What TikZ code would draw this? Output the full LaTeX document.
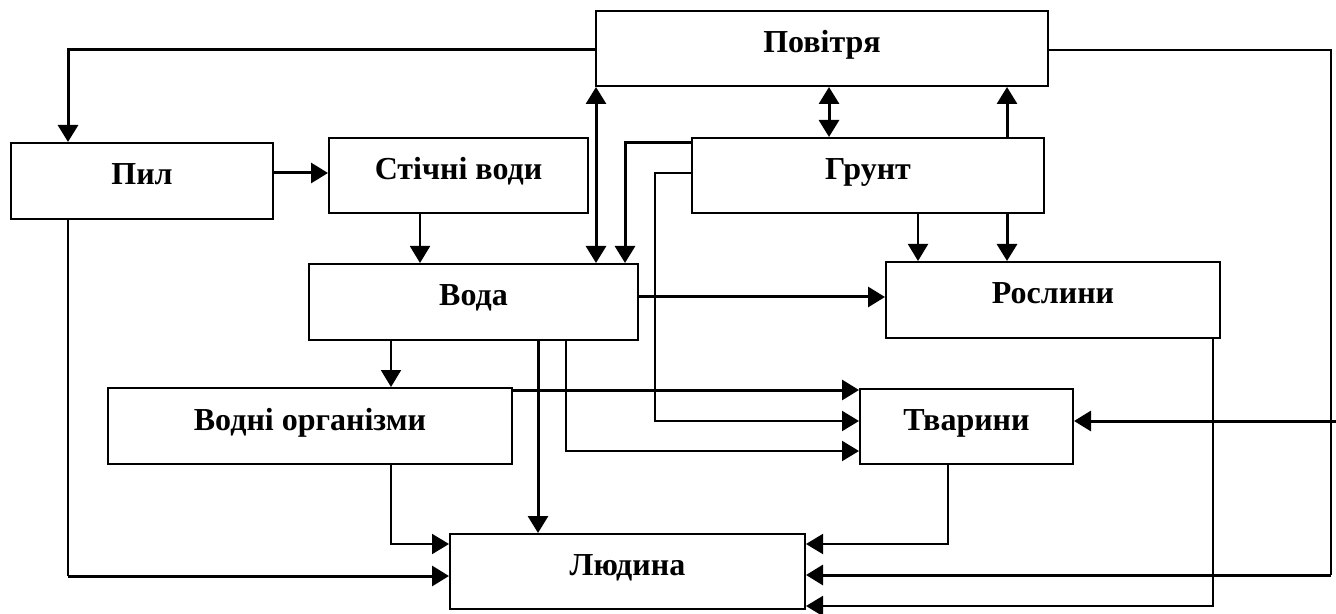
\documentclass[tikz,border=0pt]{standalone}
\usepackage{fontspec}
\setmainfont{Liberation Serif}
\usetikzlibrary{arrows.meta,calc}
\begin{document}
\begin{tikzpicture}[x=0.5pt,y=-0.5pt,
 box/.style={draw, line width=1pt, inner sep=0pt, font=\fontsize{16}{19}\selectfont\bfseries, text height=6pt, text depth=2pt},
 ln/.style={line width=1pt},
 tk/.style={line width=1.5pt},
 arr/.style={-{Triangle[length=8.5pt,width=10pt]}},
 barr/.style={{Triangle[length=8.5pt,width=10pt]}-{Triangle[length=8.5pt,width=10pt]}},
]
\useasboundingbox (0,0) rectangle (1336,614);
% boxes
\node[box, minimum width=226pt, minimum height=37.5pt] (pov) at (822,48.5) {Повітря};
\node[box, minimum width=131pt, minimum height=38pt] (pil) at (142,181) {Пил};
\node[box, minimum width=129.5pt, minimum height=37.5pt] (stichni) at (458.5,175.5) {Стічні води};
\node[box, minimum width=176pt, minimum height=37.5pt] (grunt) at (868,175.5) {Грунт};
\node[box, minimum width=164.5pt, minimum height=38pt] (voda) at (473.5,302) {Вода};
\node[box, minimum width=167pt, minimum height=38pt] (rosl) at (1053,300) {Рослини};
\node[box, minimum width=202pt, minimum height=38pt] (vodni) at (310,426) {Водні організми};
\node[box, minimum width=106.5pt, minimum height=37.5pt] (tvar) at (966.5,426.5) {Тварини};
\node[box, minimum width=177.5pt, minimum height=37.5pt] (lyud) at (627.5,571.5) {Людина};
% helper coordinates
\coordinate (yA) at (0,50);
\coordinate (xA) at (68,0);
\coordinate (xR) at (1331,0);
\coordinate (yB) at (0,575);
\coordinate (edge) at (1336,421);
\coordinate (yC) at (0,173);
\coordinate (xD) at (420,0);
\coordinate (yE) at (0,576);
\coordinate (xF) at (391,0);
\coordinate (yF) at (0,544);
\coordinate (xH) at (596,0);
\coordinate (yI) at (0,143);
\coordinate (xI) at (625,0);
\coordinate (xJ) at (655,0);
\coordinate (yJ) at (0,421);
\coordinate (xK) at (829,0);
\coordinate (xL) at (1007,0);
\coordinate (xM) at (918,0);
\coordinate (yN) at (0,297);
\coordinate (yO) at (0,390);
\coordinate (xP) at (538,0);
\coordinate (xQ) at (566,0);
\coordinate (yQ) at (0,451);
\coordinate (xT) at (948,0);
\coordinate (xS) at (1213,0);
\coordinate (yS) at (0,606);
% connectors
\draw[tk,arr] (pov.west |- yA) -| (pil.north -| xA);
\draw[ln] (pov.east |- yA) -| (xR |- yB);
\draw[tk,arr] (xR |- yB) -- (lyud.east |- yB);
\draw[tk,arr] (edge) -- (tvar.east |- edge);
\draw[tk,arr] (pil.east |- yC) -- (stichni.west |- yC);
\draw[ln,arr] (stichni.south -| xD) -- (voda.north -| xD);
\draw[ln] (pil.south -| xA) -- (xA |- yE);
\draw[tk,arr] (xA |- yE) -- (lyud.west |- yE);
\draw[ln,arr] (vodni.south -| xF) |- (lyud.west |- yF);
\draw[ln,arr] (voda.south -| xF) -- (vodni.north -| xF);
\draw[tk,barr] (voda.north -| xH) -- (pov.south -| xH);
\draw[tk,arr] (grunt.west |- yI) -| (voda.north -| xI);
\draw[ln,arr] (grunt.west |- yC) -| (xJ |- yJ) -- (tvar.west |- yJ);
\draw[tk,barr] (grunt.north -| xK) -- (pov.south -| xK);
\draw[tk,arr] (grunt.north -| xL) -- (pov.south -| xL);
\draw[ln,arr] (grunt.south -| xM) -- (rosl.north -| xM);
\draw[tk,arr] (grunt.south -| xL) -- (rosl.north -| xL);
\draw[tk,arr] (voda.east |- yN) -- (rosl.west |- yN);
\draw[tk,arr] (vodni.east |- yO) -- (tvar.west |- yO);
\draw[tk,arr] (voda.south -| xP) -- (lyud.north -| xP);
\draw[ln,arr] (voda.south -| xQ) |- (tvar.west |- yQ);
\draw[ln,arr] (tvar.south -| xT) |- (lyud.east |- yF);
\draw[ln,arr] (rosl.south -| xS) |- (lyud.east |- yS);
\end{tikzpicture}
\end{document}
